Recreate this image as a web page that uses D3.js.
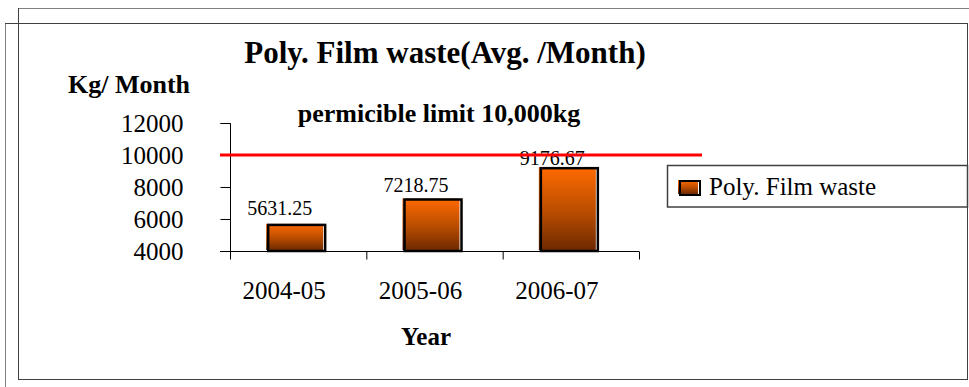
<!DOCTYPE html>
<html>
<head>
<meta charset="utf-8">
<script src="https://cdn.jsdelivr.net/npm/d3@7"></script>
<style>
  html, body { margin: 0; padding: 0; background: #fff; }
  svg { display: block; }
  text { font-family: "Liberation Serif", "Times New Roman", serif; fill: #000; }
</style>
</head>
<body>
<svg id="chart" width="969" height="387"></svg>
<script>
// Average monthly poly. film waste per financial year
const categories = ["2004-05", "2005-06", "2006-07"];
const values = [5631.25, 7218.75, 9176.67];
const valueLabels = ["5631.25", "7218.75", "9176.67"];
const yTicks = [4000, 6000, 8000, 10000, 12000];
const limitValue = 10000;
const limitLabel = "permicible limit 10,000kg";
const seriesName = "Poly. Film waste";
const chartTitle = "Poly. Film waste(Avg. /Month)";
const yTitle = "Kg/ Month";
const xTitle = "Year";

const SERIF = "'Liberation Serif', 'Times New Roman', serif";
const svg = d3.select("#chart");

// gradient fill used by bars and legend swatch
const defs = svg.append("defs");
const grad = defs.append("linearGradient")
  .attr("id", "barGrad").attr("x1", 0).attr("y1", 0).attr("x2", 0).attr("y2", 1);
grad.append("stop").attr("offset", "0%").attr("stop-color", "#ff6a00");
grad.append("stop").attr("offset", "55%").attr("stop-color", "#b84c00");
grad.append("stop").attr("offset", "100%").attr("stop-color", "#6e2a00");

// double frame around the chart
const frame = svg.append("g").attr("fill", "none").attr("shape-rendering", "crispEdges");
frame.append("line").attr("x1", 18).attr("y1", 8.5).attr("x2", 969).attr("y2", 8.5).attr("stroke", "#808080").attr("stroke-width", 1.5);
frame.append("line").attr("x1", 5.5).attr("y1", 23).attr("x2", 5.5).attr("y2", 387).attr("stroke", "#808080").attr("stroke-width", 1.5);
frame.append("line").attr("x1", 18.5).attr("y1", 8).attr("x2", 18.5).attr("y2", 380).attr("stroke", "#404040").attr("stroke-width", 1.5);
frame.append("line").attr("x1", 5).attr("y1", 23.5).attr("x2", 968).attr("y2", 23.5).attr("stroke", "#404040").attr("stroke-width", 1.5);
frame.append("line").attr("x1", 18).attr("y1", 379.5).attr("x2", 968).attr("y2", 379.5).attr("stroke", "#404040").attr("stroke-width", 1.5);
frame.append("line").attr("x1", 967.5).attr("y1", 23).attr("x2", 967.5).attr("y2", 165).attr("stroke", "#404040").attr("stroke-width", 1.5);
frame.append("line").attr("x1", 967.5).attr("y1", 207).attr("x2", 967.5).attr("y2", 380).attr("stroke", "#404040").attr("stroke-width", 1.5);

// scales
const x = d3.scaleBand().domain(categories).range([230, 639]).padding(0);
const y = d3.scaleLinear().domain([4000, 12000]).range([251, 123]);

// y axis
const yAxis = d3.axisLeft(y).tickValues(yTicks).tickSize(10).tickFormat(d3.format("d"));
const gy = svg.append("g").attr("transform", "translate(230.5,0)").call(yAxis)
  .attr("font-family", SERIF).attr("font-size", 25);
gy.select(".domain").attr("d", "M-10,123.5H0V259").attr("stroke", "#000");
gy.selectAll(".tick line").attr("stroke", "#000");
gy.selectAll(".tick text")
  .attr("x", -47).attr("dy", "0.32em")
  .style("font-family", SERIF).style("font-size", "25px");

// x axis
const xAxis = d3.axisBottom(x).tickSize(0).tickSizeOuter(0);
const gx = svg.append("g").attr("transform", "translate(0,251.5)").call(xAxis)
  .attr("font-family", SERIF).attr("font-size", 25);
gx.select(".domain").attr("d", "M220,0H639").attr("stroke", "#000");
gx.selectAll(".tick text")
  .attr("y", 0).attr("dy", "47px").attr("dx", -14)
  .style("font-family", SERIF).style("font-size", "25px");
// category separators
const sepPos = [x.range()[0], ...categories.map(c => x(c) + x.bandwidth())];
gx.selectAll(".sep").data(sepPos).enter().append("line")
  .attr("class", "sep")
  .attr("x1", d => d + 0.5).attr("x2", d => d + 0.5)
  .attr("y1", 0).attr("y2", 8).attr("stroke", "#000");

// bars
const barW = 57;
const bars = svg.append("g");
const cx = c => x(c) + x.bandwidth() / 2 - 1.5;
bars.selectAll(".fill").data(values).enter().append("rect")
  .attr("x", (d, i) => cx(categories[i]) - barW / 2 - 2)
  .attr("y", d => y(d) - 1)
  .attr("width", barW)
  .attr("height", d => y(4000) - y(d))
  .attr("fill", "url(#barGrad)");
bars.selectAll(".edge").data(values).enter().append("rect")
  .attr("x", (d, i) => cx(categories[i]) - barW / 2)
  .attr("y", d => y(d))
  .attr("width", barW)
  .attr("height", d => y(4000) - y(d))
  .attr("fill", "none").attr("stroke", "#000").attr("stroke-width", 2.5);

// permissible limit line
svg.append("line")
  .attr("x1", 220).attr("x2", 702)
  .attr("y1", y(limitValue)).attr("y2", y(limitValue))
  .attr("stroke", "#ff0000").attr("stroke-width", 3);
svg.append("text")
  .attr("x", 439).attr("y", 122)
  .attr("text-anchor", "middle")
  .style("font-size", "26px").style("font-weight", "bold")
  .text(limitLabel);

// value labels above bars
const labelLift = [10, 8, 3];
bars.selectAll(".val").data(values).enter().append("text")
  .attr("x", (d, i) => cx(categories[i]) - 17)
  .attr("y", (d, i) => y(d) - labelLift[i])
  .attr("text-anchor", "middle")
  .style("font-size", "20px")
  .text((d, i) => valueLabels[i]);

// titles
svg.append("text").attr("x", 445).attr("y", 63).attr("text-anchor", "middle")
  .style("font-size", "31px").style("font-weight", "bold").text(chartTitle);
svg.append("text").attr("x", 129).attr("y", 93).attr("text-anchor", "middle")
  .style("font-size", "26px").style("font-weight", "bold").text(yTitle);
svg.append("text").attr("x", 426).attr("y", 345).attr("text-anchor", "middle")
  .style("font-size", "25px").style("font-weight", "bold").text(xTitle);

// legend
const lg = svg.append("g");
lg.append("rect").attr("x", 667.5).attr("y", 165.5).attr("width", 300).attr("height", 41.5)
  .attr("fill", "#fff").attr("stroke", "#404040").attr("stroke-width", 1.5);
lg.append("rect").attr("x", 678).attr("y", 180).attr("width", 20).attr("height", 14)
  .attr("fill", "url(#barGrad)");
lg.append("rect").attr("x", 680).attr("y", 181).attr("width", 20).attr("height", 14)
  .attr("fill", "none").attr("stroke", "#000").attr("stroke-width", 2);
lg.append("text").attr("x", 709).attr("y", 195)
  .style("font-size", "25px").text(seriesName);
</script>
</body>
</html>
